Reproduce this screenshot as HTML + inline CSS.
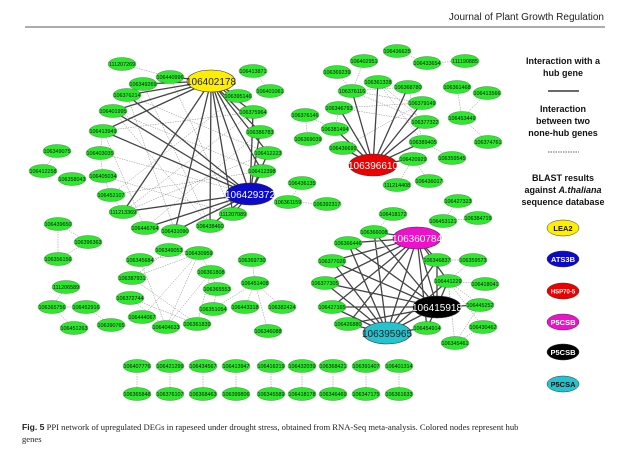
<!DOCTYPE html>
<html><head><meta charset="utf-8"><style>
html,body{margin:0;padding:0;background:#fff;}
svg{display:block;}
.n ellipse{fill:#2ee82e;stroke:#4a6a4a;stroke-width:0.4;}
.n text{font-family:"Liberation Sans",sans-serif;font-size:5.4px;fill:#111;text-anchor:middle;}
.h{stroke:#444;stroke-width:1.3;fill:none;}
.d{stroke:#888;stroke-width:0.5;stroke-dasharray:1.5,1;fill:none;}
.lg{font-family:"Liberation Sans",sans-serif;font-size:9px;font-weight:bold;fill:#111;text-anchor:middle;}
.lb{font-family:"Liberation Sans",sans-serif;font-size:7.5px;font-weight:bold;text-anchor:middle;}
</style></head><body>
<svg width="629" height="460" viewBox="0 0 629 460" xmlns="http://www.w3.org/2000/svg">
<text x="604" y="20" font-family="Liberation Sans,sans-serif" font-size="10" text-anchor="end" fill="#222">Journal of Plant Growth Regulation</text>
<line x1="25" y1="27" x2="605" y2="27" stroke="#222" stroke-width="0.8"/>

<g class="d">
<path d="M122 64L170 77M253 71L270 91M103 131L100 153M100 153L103 176M103 176L111 195M111 195L123 212M113 111L262 171M103 131L253 112M127 95L268 153M111 195L238 96M123 212L268 153M143 84L210 226M145 228L260 132M103 176L233 214M100 153L250 194M302 183L288 202M288 202L327 204M305 115L308 139M57 151L43 171M170 77L233 214M127 95L175 231M113 111L210 226M103 131L145 228M262 171L111 195M253 112L123 212"/>
</g>
<g class="h">
<path d="M211 81L170 77M211 81L143 84M211 81L127 95M211 81L113 111M211 81L103 131M211 81L238 96M211 81L253 112M211 81L260 132M211 81L268 153M211 81L262 171M211 81L123 212M211 81L175 231M211 81L210 226M211 81L250 194M211 81L233 214
M250 194L103 131M250 194L113 111M250 194L127 95M250 194L123 212M250 194L145 228M250 194L175 231M250 194L210 226M250 194L233 214M250 194L262 171M250 194L260 132M250 194L253 112M250 194L268 153"/>
</g>
<g class="d">
<path d="M397 51L427 63M427 63L465 61M364 61L352 91M337 72L352 91M352 91L408 87M352 91L422 103M378 82L425 122M408 87L423 142M339 108L422 103M339 108L425 122M335 129L305 115M335 129L339 108M343 148L422 103M423 142L452 158M413 159L397 185M413 159L429 181M457 87L462 118M487 93L462 118M462 118L488 142M458 201L443 221M443 221L478 218M352 91L425 122M378 82L423 142"/>
</g>
<g class="h">
<path d="M373 165L352 91M373 165L378 82M373 165L408 87M373 165L422 103M373 165L425 122M373 165L423 142M373 165L413 159M373 165L343 148M373 165L335 129M373 165L339 108"/>
</g>
<g class="d">
<path d="M393 214L374 232M437 260L473 260M448 281L473 260M448 281L485 284M448 281L480 305M448 281L483 327M480 305L455 343M483 327L455 343M448 281L455 343"/>
</g>
<g class="h">
<path d="M417 238L437 307M417 238L387 333M437 307L387 333
M417 238L374 232M417 238L348 243M417 238L332 261M417 238L325 283M417 238L332 307M417 238L348 324M417 238L427 328M417 238L437 260M417 238L448 281
M437 307L374 232M437 307L348 243M437 307L332 261M437 307L325 283M437 307L332 307M437 307L348 324M437 307L427 328M437 307L437 260M437 307L448 281M437 307L480 305
M387 333L374 232M387 333L348 243M387 333L332 261M387 333L325 283M387 333L332 307M387 333L348 324M387 333L427 328M387 333L437 260M387 333L448 281"/>
</g>
<g class="d">
<path d="M58 224L88 242M88 242L58 259M58 224L58 259M66 287L52 307M52 307L86 307M52 307L74 328M86 307L111 325M169 250L199 253M140 260L199 253M140 260L166 327M132 278L199 253M132 278L197 324M199 253L211 272M199 253L142 317M211 272L166 327M211 272L197 324M211 272L217 289M217 289L213 309M130 298L166 327M130 298L197 324M199 253L166 327M213 309L255 283M252 260L255 283M255 283L245 307M255 283L282 307M255 283L268 331M169 250L132 278"/>
<path d="M137 366V394M170 366V394M203 366V394M236 366V394M271 366V394M302 366V394M333 366V394M366 366V394M399 366V394"/>
</g>

<g class="n">
<ellipse cx="122" cy="64" rx="14" ry="6.5"/><text x="122" y="66">111207269</text>
<ellipse cx="170" cy="77" rx="14" ry="6.5"/><text x="170" y="79">106440996</text>
<ellipse cx="143" cy="84" rx="14" ry="6.5"/><text x="143" y="86">106349269</text>
<ellipse cx="127" cy="95" rx="14" ry="6.5"/><text x="127" y="97">106376214</text>
<ellipse cx="113" cy="111" rx="14" ry="6.5"/><text x="113" y="113">106401995</text>
<ellipse cx="103" cy="131" rx="14" ry="6.5"/><text x="103" y="133">106413949</text>
<ellipse cx="100" cy="153" rx="14" ry="6.5"/><text x="100" y="155">106403035</text>
<ellipse cx="103" cy="176" rx="14" ry="6.5"/><text x="103" y="178">106405034</text>
<ellipse cx="111" cy="195" rx="14" ry="6.5"/><text x="111" y="197">106452107</text>
<ellipse cx="123" cy="212" rx="14" ry="6.5"/><text x="123" y="214">111213369</text>
<ellipse cx="145" cy="228" rx="14" ry="6.5"/><text x="145" y="230">106446764</text>
<ellipse cx="175" cy="231" rx="14" ry="6.5"/><text x="175" y="233">106431090</text>
<ellipse cx="210" cy="226" rx="14" ry="6.5"/><text x="210" y="228">106438460</text>
<ellipse cx="233" cy="214" rx="14" ry="6.5"/><text x="233" y="216">111207089</text>
<ellipse cx="253" cy="71" rx="14" ry="6.5"/><text x="253" y="73">106413871</text>
<ellipse cx="270" cy="91" rx="14" ry="6.5"/><text x="270" y="93">106401061</text>
<ellipse cx="238" cy="96" rx="14" ry="6.5"/><text x="238" y="98">106395146</text>
<ellipse cx="253" cy="112" rx="14" ry="6.5"/><text x="253" y="114">106375964</text>
<ellipse cx="260" cy="132" rx="14" ry="6.5"/><text x="260" y="134">106386783</text>
<ellipse cx="268" cy="153" rx="14" ry="6.5"/><text x="268" y="155">106412223</text>
<ellipse cx="262" cy="171" rx="14" ry="6.5"/><text x="262" y="173">106412398</text>
<ellipse cx="302" cy="183" rx="14" ry="6.5"/><text x="302" y="185">106436135</text>
<ellipse cx="288" cy="202" rx="14" ry="6.5"/><text x="288" y="204">106361159</text>
<ellipse cx="327" cy="204" rx="14" ry="6.5"/><text x="327" y="206">106392317</text>
<ellipse cx="305" cy="115" rx="14" ry="6.5"/><text x="305" y="117">106376146</text>
<ellipse cx="308" cy="139" rx="14" ry="6.5"/><text x="308" y="141">106369039</text>
<ellipse cx="57" cy="151" rx="14" ry="6.5"/><text x="57" y="153">106349075</text>
<ellipse cx="43" cy="171" rx="14" ry="6.5"/><text x="43" y="173">106412258</text>
<ellipse cx="72" cy="179" rx="14" ry="6.5"/><text x="72" y="181">106358043</text>

<ellipse cx="397" cy="51" rx="14" ry="6.5"/><text x="397" y="53">106436625</text>
<ellipse cx="427" cy="63" rx="14" ry="6.5"/><text x="427" y="65">106433654</text>
<ellipse cx="465" cy="61" rx="14" ry="6.5"/><text x="465" y="63">111190885</text>
<ellipse cx="364" cy="61" rx="14" ry="6.5"/><text x="364" y="63">106402951</text>
<ellipse cx="337" cy="72" rx="14" ry="6.5"/><text x="337" y="74">106369239</text>
<ellipse cx="378" cy="82" rx="14" ry="6.5"/><text x="378" y="84">106361328</text>
<ellipse cx="408" cy="87" rx="14" ry="6.5"/><text x="408" y="89">106368780</text>
<ellipse cx="352" cy="91" rx="14" ry="6.5"/><text x="352" y="93">106376116</text>
<ellipse cx="422" cy="103" rx="14" ry="6.5"/><text x="422" y="105">106379149</text>
<ellipse cx="339" cy="108" rx="14" ry="6.5"/><text x="339" y="110">106346793</text>
<ellipse cx="335" cy="129" rx="14" ry="6.5"/><text x="335" y="131">106381494</text>
<ellipse cx="425" cy="122" rx="14" ry="6.5"/><text x="425" y="124">106377322</text>
<ellipse cx="343" cy="148" rx="14" ry="6.5"/><text x="343" y="150">106436699</text>
<ellipse cx="423" cy="142" rx="14" ry="6.5"/><text x="423" y="144">106389405</text>
<ellipse cx="452" cy="158" rx="14" ry="6.5"/><text x="452" y="160">106359545</text>
<ellipse cx="413" cy="159" rx="14" ry="6.5"/><text x="413" y="161">106420929</text>
<ellipse cx="397" cy="185" rx="14" ry="6.5"/><text x="397" y="187">111214408</text>
<ellipse cx="429" cy="181" rx="14" ry="6.5"/><text x="429" y="183">106436017</text>
<ellipse cx="457" cy="87" rx="14" ry="6.5"/><text x="457" y="89">106361468</text>
<ellipse cx="487" cy="93" rx="14" ry="6.5"/><text x="487" y="95">106413566</text>
<ellipse cx="462" cy="118" rx="14" ry="6.5"/><text x="462" y="120">106453449</text>
<ellipse cx="488" cy="142" rx="14" ry="6.5"/><text x="488" y="144">106374761</text>
<ellipse cx="458" cy="201" rx="14" ry="6.5"/><text x="458" y="203">106427323</text>
<ellipse cx="443" cy="221" rx="14" ry="6.5"/><text x="443" y="223">106453121</text>
<ellipse cx="478" cy="218" rx="14" ry="6.5"/><text x="478" y="220">106384719</text>
<ellipse cx="393" cy="214" rx="14" ry="6.5"/><text x="393" y="216">106418172</text>

<ellipse cx="374" cy="232" rx="14" ry="6.5"/><text x="374" y="234">106366008</text>
<ellipse cx="348" cy="243" rx="14" ry="6.5"/><text x="348" y="245">106366446</text>
<ellipse cx="332" cy="261" rx="14" ry="6.5"/><text x="332" y="263">106377026</text>
<ellipse cx="325" cy="283" rx="14" ry="6.5"/><text x="325" y="285">106377305</text>
<ellipse cx="332" cy="307" rx="14" ry="6.5"/><text x="332" y="309">106427165</text>
<ellipse cx="348" cy="324" rx="14" ry="6.5"/><text x="348" y="326">106426880</text>
<ellipse cx="427" cy="328" rx="14" ry="6.5"/><text x="427" y="330">106454914</text>
<ellipse cx="437" cy="260" rx="14" ry="6.5"/><text x="437" y="262">106346837</text>
<ellipse cx="473" cy="260" rx="14" ry="6.5"/><text x="473" y="262">106359573</text>
<ellipse cx="448" cy="281" rx="14" ry="6.5"/><text x="448" y="283">106441229</text>
<ellipse cx="485" cy="284" rx="14" ry="6.5"/><text x="485" y="286">106418041</text>
<ellipse cx="480" cy="305" rx="14" ry="6.5"/><text x="480" y="307">106445252</text>
<ellipse cx="483" cy="327" rx="14" ry="6.5"/><text x="483" y="329">106430462</text>
<ellipse cx="455" cy="343" rx="14" ry="6.5"/><text x="455" y="345">106345461</text>

<ellipse cx="58" cy="224" rx="14" ry="6.5"/><text x="58" y="226">106439650</text>
<ellipse cx="88" cy="242" rx="14" ry="6.5"/><text x="88" y="244">106396363</text>
<ellipse cx="58" cy="259" rx="14" ry="6.5"/><text x="58" y="261">106356156</text>
<ellipse cx="66" cy="287" rx="14" ry="6.5"/><text x="66" y="289">111206589</text>
<ellipse cx="52" cy="307" rx="14" ry="6.5"/><text x="52" y="309">106365756</text>
<ellipse cx="86" cy="307" rx="14" ry="6.5"/><text x="86" y="309">106452916</text>
<ellipse cx="74" cy="328" rx="14" ry="6.5"/><text x="74" y="330">106451263</text>
<ellipse cx="111" cy="325" rx="14" ry="6.5"/><text x="111" y="327">106390765</text>
<ellipse cx="169" cy="250" rx="14" ry="6.5"/><text x="169" y="252">106349053</text>
<ellipse cx="140" cy="260" rx="14" ry="6.5"/><text x="140" y="262">106345684</text>
<ellipse cx="199" cy="253" rx="14" ry="6.5"/><text x="199" y="255">106430959</text>
<ellipse cx="132" cy="278" rx="14" ry="6.5"/><text x="132" y="280">106387931</text>
<ellipse cx="211" cy="272" rx="14" ry="6.5"/><text x="211" y="274">106361808</text>
<ellipse cx="217" cy="289" rx="14" ry="6.5"/><text x="217" y="291">106365553</text>
<ellipse cx="130" cy="298" rx="14" ry="6.5"/><text x="130" y="300">106372744</text>
<ellipse cx="213" cy="309" rx="14" ry="6.5"/><text x="213" y="311">106351054</text>
<ellipse cx="142" cy="317" rx="14" ry="6.5"/><text x="142" y="319">106444067</text>
<ellipse cx="166" cy="327" rx="14" ry="6.5"/><text x="166" y="329">106404633</text>
<ellipse cx="197" cy="324" rx="14" ry="6.5"/><text x="197" y="326">106361839</text>
<ellipse cx="252" cy="260" rx="14" ry="6.5"/><text x="252" y="262">106369730</text>
<ellipse cx="255" cy="283" rx="14" ry="6.5"/><text x="255" y="285">106451408</text>
<ellipse cx="245" cy="307" rx="14" ry="6.5"/><text x="245" y="309">106443318</text>
<ellipse cx="282" cy="307" rx="14" ry="6.5"/><text x="282" y="309">106382424</text>
<ellipse cx="268" cy="331" rx="14" ry="6.5"/><text x="268" y="333">106346088</text>

<ellipse cx="137" cy="366" rx="14" ry="6.5"/><text x="137" y="368">106407776</text>
<ellipse cx="170" cy="366" rx="14" ry="6.5"/><text x="170" y="368">106421299</text>
<ellipse cx="203" cy="366" rx="14" ry="6.5"/><text x="203" y="368">106434567</text>
<ellipse cx="236" cy="366" rx="14" ry="6.5"/><text x="236" y="368">106413947</text>
<ellipse cx="271" cy="366" rx="14" ry="6.5"/><text x="271" y="368">106416219</text>
<ellipse cx="302" cy="366" rx="14" ry="6.5"/><text x="302" y="368">106432039</text>
<ellipse cx="333" cy="366" rx="14" ry="6.5"/><text x="333" y="368">106368421</text>
<ellipse cx="366" cy="366" rx="14" ry="6.5"/><text x="366" y="368">106391407</text>
<ellipse cx="399" cy="366" rx="14" ry="6.5"/><text x="399" y="368">106401314</text>
<ellipse cx="137" cy="394" rx="14" ry="6.5"/><text x="137" y="396">106365848</text>
<ellipse cx="170" cy="394" rx="14" ry="6.5"/><text x="170" y="396">106376107</text>
<ellipse cx="203" cy="394" rx="14" ry="6.5"/><text x="203" y="396">106368463</text>
<ellipse cx="236" cy="394" rx="14" ry="6.5"/><text x="236" y="396">106399806</text>
<ellipse cx="271" cy="394" rx="14" ry="6.5"/><text x="271" y="396">106345589</text>
<ellipse cx="302" cy="394" rx="14" ry="6.5"/><text x="302" y="396">106418178</text>
<ellipse cx="333" cy="394" rx="14" ry="6.5"/><text x="333" y="396">106346469</text>
<ellipse cx="366" cy="394" rx="14" ry="6.5"/><text x="366" y="396">106347175</text>
<ellipse cx="399" cy="394" rx="14" ry="6.5"/><text x="399" y="396">106361633</text>
</g>

<g font-family="Liberation Sans,sans-serif" font-size="10" text-anchor="middle">
<ellipse cx="211" cy="81" rx="24" ry="11" fill="#ffee00" stroke="#333" stroke-width="0.6"/><text x="211" y="85" fill="#222">106402178</text>
<ellipse cx="250" cy="194" rx="24" ry="11" fill="#0a0ac8" stroke="#333" stroke-width="0.6"/><text x="250" y="198" fill="#fff">106429372</text>
<ellipse cx="373" cy="165" rx="24" ry="11" fill="#ee0000" stroke="#333" stroke-width="0.6"/><text x="373" y="169" fill="#fff">106396610</text>
<ellipse cx="417" cy="238" rx="24" ry="11" fill="#ee11cc" stroke="#333" stroke-width="0.6"/><text x="417" y="242" fill="#fff">106360784</text>
<ellipse cx="437" cy="307" rx="24" ry="11" fill="#000" stroke="#333" stroke-width="0.6"/><text x="437" y="311" fill="#fff">106415918</text>
<ellipse cx="387" cy="333" rx="24" ry="11" fill="#22c4d0" stroke="#333" stroke-width="0.6"/><text x="387" y="337" fill="#222">106395965</text>
</g>

<text class="lg" x="563" y="64">Interaction with a</text>
<text class="lg" x="563" y="76">hub gene</text>
<line x1="548" y1="91" x2="579" y2="91" stroke="#111" stroke-width="1.2"/>
<text class="lg" x="563" y="112">Interaction</text>
<text class="lg" x="563" y="124">between two</text>
<text class="lg" x="563" y="136">none-hub genes</text>
<line x1="548" y1="152" x2="579" y2="152" stroke="#333" stroke-width="0.8" stroke-dasharray="1.5,1"/>
<text class="lg" x="563" y="181">BLAST results</text>
<text class="lg" x="563" y="193">against <tspan font-style="italic">A.thaliana</tspan></text>
<text class="lg" x="563" y="205">sequence database</text>
<ellipse cx="563" cy="228" rx="16" ry="8" fill="#ffee00" stroke="#333" stroke-width="0.5"/><text class="lb" x="563" y="230.8" fill="#111">LEA2</text>
<ellipse cx="563" cy="259" rx="16" ry="8" fill="#0a0ac8" stroke="#333" stroke-width="0.5"/><text class="lb" x="563" y="261.8" fill="#fff">ATS3B</text>
<ellipse cx="563" cy="291" rx="16" ry="8" fill="#ee0000" stroke="#333" stroke-width="0.5"/><text class="lb" x="563" y="293.3" fill="#fff" style="font-size:6px">HSP70-5</text>
<ellipse cx="563" cy="322" rx="16" ry="8" fill="#ee11cc" stroke="#333" stroke-width="0.5"/><text class="lb" x="563" y="324.8" fill="#fff">P5CSB</text>
<ellipse cx="563" cy="352" rx="16" ry="8" fill="#000" stroke="#333" stroke-width="0.5"/><text class="lb" x="563" y="354.8" fill="#fff">P5CSB</text>
<ellipse cx="563" cy="384" rx="16" ry="8" fill="#22c4d0" stroke="#333" stroke-width="0.5"/><text class="lb" x="563" y="386.8" fill="#111">P5CSA</text>

<text x="22" y="430" font-family="Liberation Serif,serif" font-size="8.6" fill="#222"><tspan font-family="Liberation Sans,sans-serif" font-weight="bold">Fig. 5</tspan>  PPI network of upregulated DEGs in rapeseed under drought stress, obtained from RNA-Seq meta-analysis. Colored nodes represent hub</text>
<text x="22" y="442" font-family="Liberation Serif,serif" font-size="8.6" fill="#222">genes</text>
</svg>
</body></html>
